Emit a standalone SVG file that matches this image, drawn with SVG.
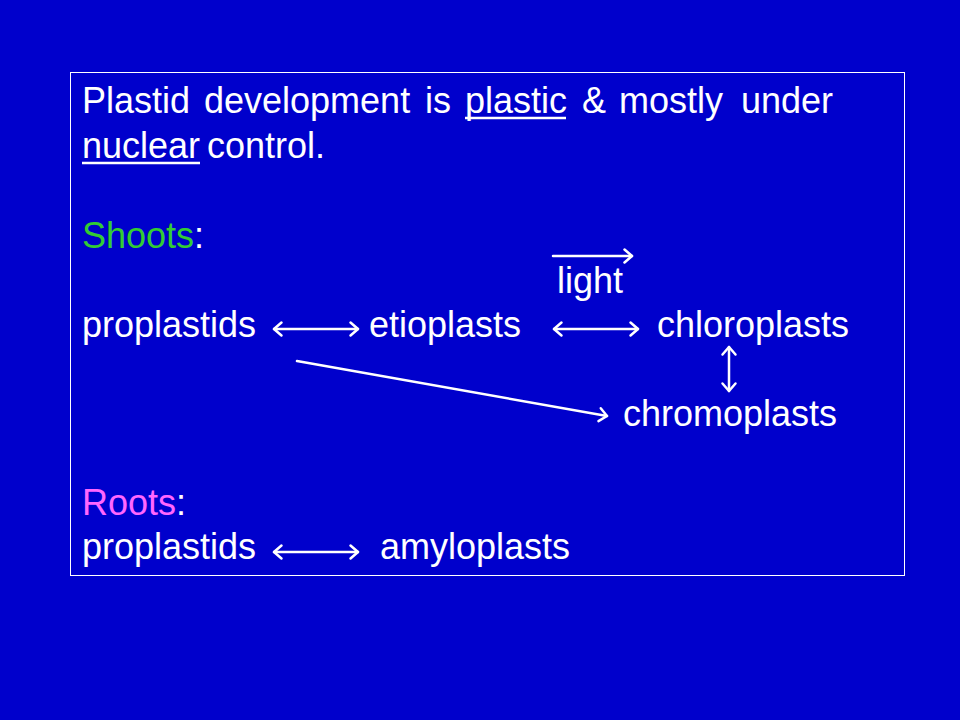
<svg xmlns="http://www.w3.org/2000/svg" width="960" height="720" viewBox="0 0 960 720">
<defs>
<style>
text{font-family:"Liberation Sans",Arial,sans-serif;font-size:36px;fill:#fff}
.sh{fill:#33CC33}
.rt{fill:#FF66FF}
.c line{stroke:#fff;stroke-width:2.5;fill:none;stroke-linecap:round}
.u{stroke:#fff;stroke-width:2.5}
</style>
<marker id="ah" viewBox="-10 -10 20 20" refX="0" refY="0" markerWidth="20" markerHeight="20" orient="auto-start-reverse" markerUnits="userSpaceOnUse">
<path d="M-7.5,-6.5 L0,0 L-7.5,6.5" fill="none" stroke="#fff" stroke-width="2.5" stroke-linecap="round" stroke-linejoin="round"/>
</marker>
</defs>
<rect width="960" height="720" fill="#0000CC"/>
<rect id="frame" x="70.5" y="72.5" width="834" height="503" fill="none" stroke="#fff" stroke-width="1"/>
<g id="title">
<text y="113"><tspan x="82">Plastid</tspan><tspan x="204">development</tspan><tspan x="425">is</tspan><tspan x="465">plastic</tspan><tspan x="582">&amp;</tspan><tspan x="619">mostly</tspan><tspan x="741">under</tspan></text>
<line class="u" x1="465" y1="118" x2="566" y2="118"/>
<text y="158"><tspan x="82">nuclear</tspan><tspan x="207">control.</tspan></text>
<line class="u" x1="82" y1="163" x2="200" y2="163"/>
</g>
<g id="shoots-label"><text x="82" y="248"><tspan class="sh">Shoots</tspan>:</text></g>
<g id="light"><text x="557" y="293">light</text></g>
<g id="proplastids-1"><text x="82" y="337">proplastids</text></g>
<g id="etioplasts"><text x="369" y="337">etioplasts</text></g>
<g id="chloroplasts"><text x="657" y="337">chloroplasts</text></g>
<g id="chromoplasts"><text x="623" y="426">chromoplasts</text></g>
<g id="roots-label"><text x="82" y="515"><tspan class="rt">Roots</tspan>:</text></g>
<g id="proplastids-2"><text x="82" y="559">proplastids</text></g>
<g id="amyloplasts"><text x="380" y="559">amyloplasts</text></g>
<g id="connectors" class="c">
<line x1="553" y1="256" x2="632" y2="256" marker-end="url(#ah)"/>
<line x1="274" y1="329" x2="358" y2="329" marker-start="url(#ah)" marker-end="url(#ah)"/>
<line x1="554" y1="329" x2="638" y2="329" marker-start="url(#ah)" marker-end="url(#ah)"/>
<line x1="729" y1="347" x2="729" y2="391" marker-start="url(#ah)" marker-end="url(#ah)"/>
<line x1="297" y1="361" x2="607" y2="416" marker-end="url(#ah)"/>
<line x1="274" y1="552" x2="358" y2="552" marker-start="url(#ah)" marker-end="url(#ah)"/>
</g>
</svg>
